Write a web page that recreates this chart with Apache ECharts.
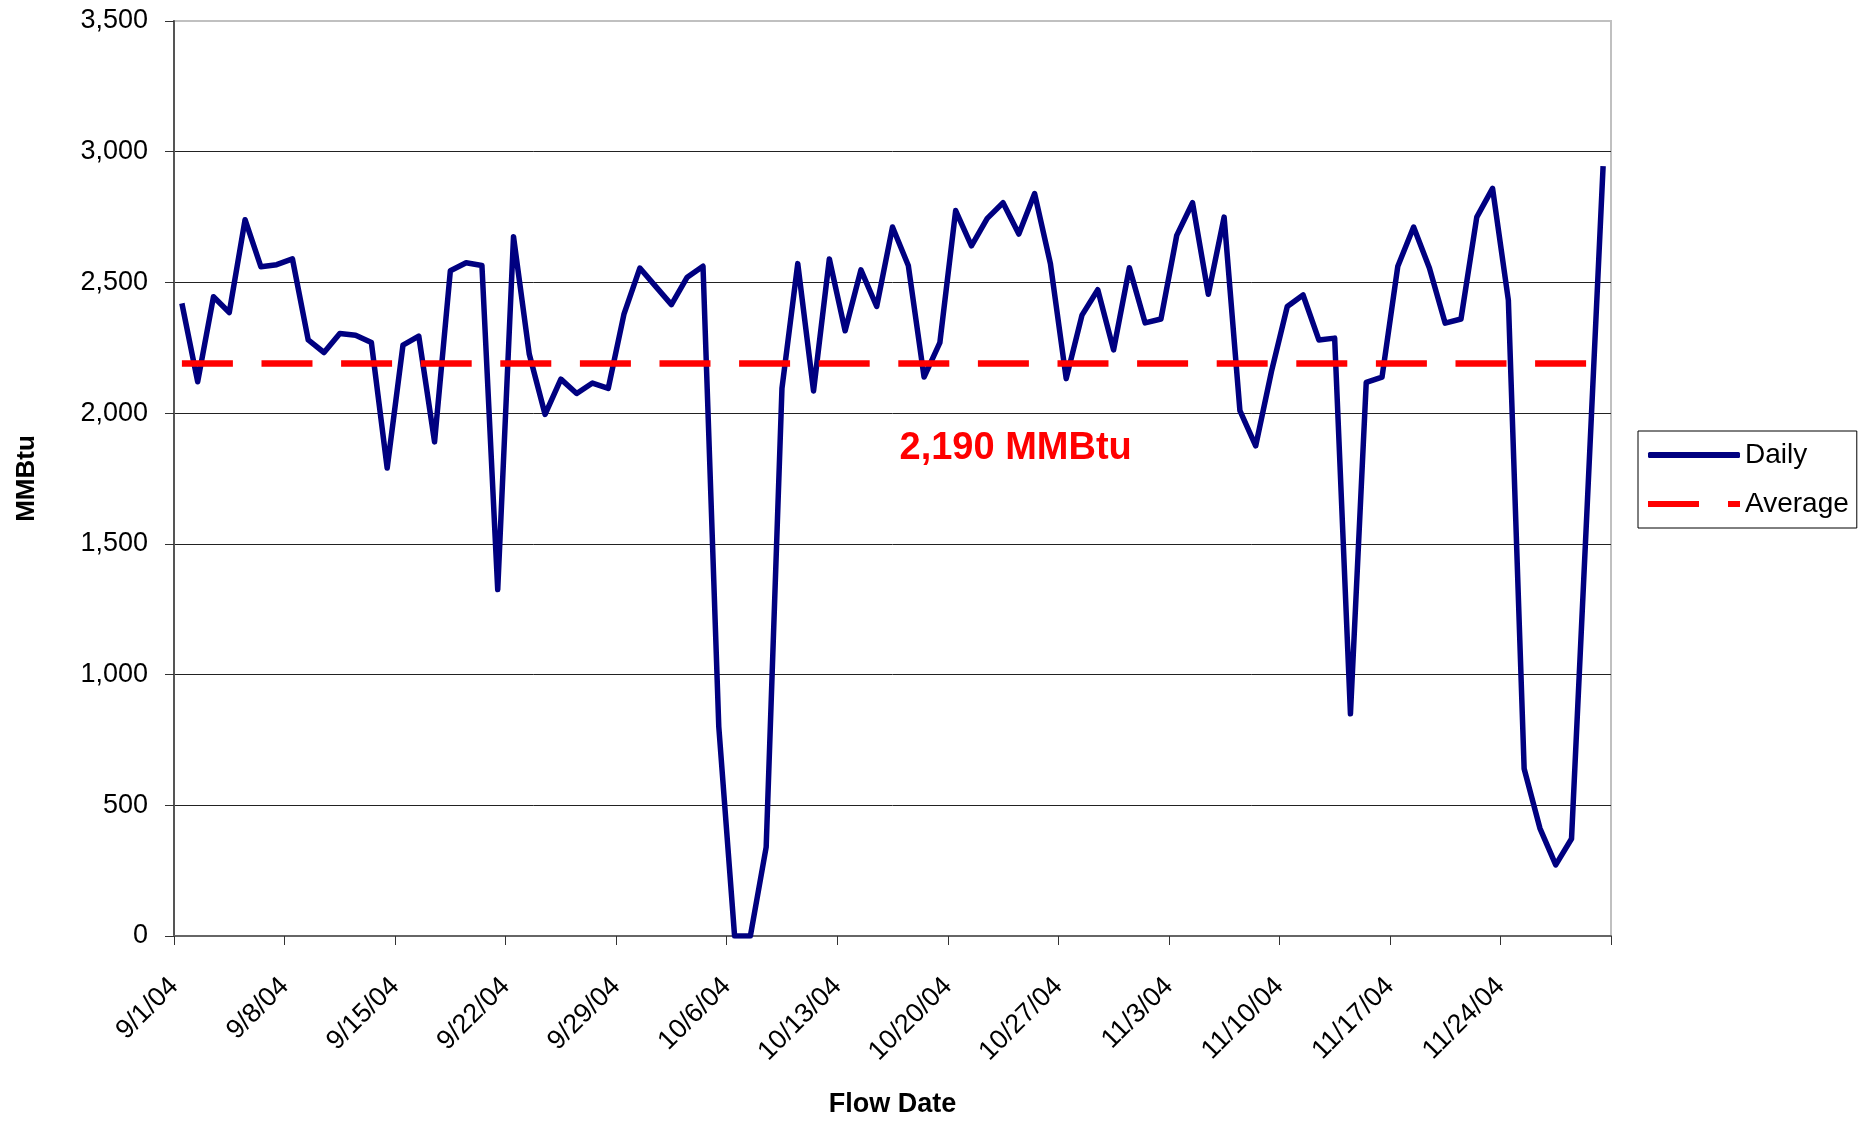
<!DOCTYPE html>
<html><head><meta charset="utf-8">
<script src="https://cdn.jsdelivr.net/npm/echarts@6/dist/echarts.min.js"></script>
<style>html,body{margin:0;padding:0;background:#fff}#c{width:1868px;height:1123px}</style>
</head><body><div id="c"></div>
<script>
// Tick labels (one every 7 days, starting 9/1/04)
const tickLabels = ['9/1/04','9/8/04','9/15/04','9/22/04','9/29/04','10/6/04','10/13/04','10/20/04','10/27/04','11/3/04','11/10/04','11/17/04','11/24/04'];

// Daily flow, 9/1/04 .. 11/30/04 (MMBtu)
const septemberValues = [2420,2120,2445,2385,2740,2560,2568,2590,2280,2232,2305,2298,2270,1790,2260,2295,1890,2545,2575,2565,1325,2675,2225,1995,2130,2075,2115,2095,2380,2555];
const octoberValues = [2485,2415,2520,2562,800,0,0,340,2095,2572,2085,2590,2315,2548,2408,2712,2565,2138,2270,2775,2640,2745,2805,2685,2840,2572,2132,2375,2472,2242,2556];
const novemberValues = [2345,2360,2680,2805,2455,2750,2010,1875,2160,2408,2452,2280,2287,850,2118,2138,2562,2712,2555,2344,2360,2750,2860,2432,640,412,272,372,1655,2945];

const averageValue = 2190;
// annotation anchor, in data units (day index, MMBtu)
const annotationAt = [53.3, 1865];

const dailyValues = septemberValues.concat(octoberValues, novemberValues);
const dailyData = dailyValues.map((v, i) => [i + 0.5, v]);
const averageData = [[0.5, averageValue], [dailyValues.length - 0.5, averageValue]];

const FONT = '"Liberation Sans", Arial, Helvetica, sans-serif';
const chart = echarts.init(document.getElementById('c'), null, {renderer: 'canvas'});
const option = {
  animation: false,
  backgroundColor: '#ffffff',
  grid: {left: 174, right: 257, top: 21, bottom: 185, show: true, borderColor: '#c0c0c0', borderWidth: 2, backgroundColor: 'transparent'},
  xAxis: {
    type: 'value', min: 0, max: dailyValues.length, interval: 7,
    name: 'Flow Date', nameLocation: 'middle', nameGap: 155,
    nameTextStyle: {fontFamily: FONT, fontWeight: 'bold', fontSize: 27, color: '#000'},
    axisLine: {show: true, onZero: false, lineStyle: {color: '#666', width: 2}},
    axisTick: {show: true, length: 9, lineStyle: {color: '#333', width: 1}},
    axisLabel: {rotate: 45, fontSize: 27, fontFamily: FONT, color: '#000', margin: 46,
      formatter: v => tickLabels[Math.round(v / 7)] || ''},
    splitLine: {show: false}
  },
  yAxis: {
    type: 'value', min: 0, max: 3500, interval: 500,
    name: 'MMBtu', nameLocation: 'middle', nameRotate: 90, nameGap: 134,
    nameTextStyle: {fontFamily: FONT, fontWeight: 'bold', fontSize: 26, color: '#000'},
    axisLine: {show: true, lineStyle: {color: '#555', width: 2}},
    axisTick: {show: true, length: 9, lineStyle: {color: '#333', width: 1}},
    axisLabel: {fontSize: 27, fontFamily: FONT, color: '#000', margin: 26,
      formatter: v => v.toLocaleString('en-US')},
    splitLine: {show: true, lineStyle: {color: ['#222','#222','#222','#222','#222','#222','#222','#c0c0c0'], width: 1}}
  },
  legend: {
    orient: 'vertical', left: 1638, top: 431,
    padding: [9, 8, 9, 10], borderColor: '#000', borderWidth: 1, backgroundColor: '#fff',
    itemWidth: 92, itemHeight: 6, itemGap: 19,
    textStyle: {fontFamily: FONT, fontSize: 28, color: '#000', lineHeight: 30},
    data: [
      {name: 'Daily', icon: 'roundRect'},
      {name: 'Average', icon: 'path://M0,0h51v6h-51z M80,0h12v6h-12z'}
    ]
  },
  series: [
    {
      name: 'Daily', type: 'line', data: dailyData, symbol: 'none', z: 3,
      lineStyle: {color: '#000080', width: 5.5, join: 'round'},
      itemStyle: {color: '#000080'}
    },
    {
      name: 'Average', type: 'line', data: averageData, symbol: 'none', z: 4,
      lineStyle: {color: '#ff0000', width: 6.5, type: [51, 28.6]},
      itemStyle: {color: '#ff0000'},
      markPoint: {
        symbol: 'circle', symbolSize: 1, silent: true,
        itemStyle: {color: 'rgba(0,0,0,0)'},
        label: {show: true, position: 'inside', color: '#ff0000', fontFamily: FONT, fontWeight: 'bold', fontSize: 38,
          formatter: () => averageValue.toLocaleString('en-US') + ' MMBtu'},
        data: [{coord: annotationAt}]
      }
    }
  ]
};
chart.setOption(option);
</script>
</body></html>
